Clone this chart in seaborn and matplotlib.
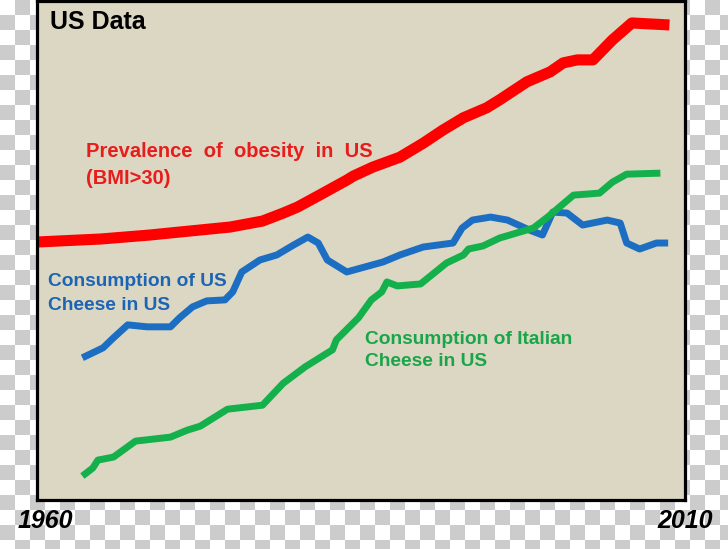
import numpy as np
import pandas as pd
import matplotlib
matplotlib.use("Agg")
import matplotlib.pyplot as plt
import seaborn as sns

# Values (relative index 0-100, no y axis in the original)
obesity_years = [1960.0, 1964.9, 1968.7, 1971.0, 1974.9, 1977.4, 1979.0, 1980.1, 1981.8,
                 1983.9, 1984.4, 1985.9, 1988.0, 1989.8, 1991.3, 1992.9, 1994.7, 1995.7,
                 1997.8, 1999.6, 2000.6, 2001.7, 2002.9, 2004.4, 2005.9, 2008.8]
obesity_vals = [51.7, 52.3, 53.1, 53.7, 54.7, 55.9, 57.5, 58.7, 61.1,
                64.1, 64.9, 66.7, 68.7, 71.5, 74.1, 76.6, 78.6, 80.2,
                83.8, 85.8, 87.6, 88.2, 88.2, 92.2, 95.6, 95.2]

us_cheese_years = [1963.5, 1965.1, 1965.9, 1967.0, 1968.5, 1970.3, 1971.0, 1972.0, 1973.1,
                   1974.5, 1975.1, 1975.8, 1977.2, 1978.5, 1979.8, 1980.9, 1981.7, 1982.4,
                   1983.9, 1986.7, 1988.0, 1989.8, 1992.1, 1992.8, 1993.6, 1995.0, 1996.3,
                   1998.0, 1999.0, 1999.8, 2000.9, 2002.1, 2004.0, 2005.0, 2005.5, 2006.5,
                   2007.8, 2008.7]
us_cheese_vals = [28.5, 30.5, 32.5, 35.1, 34.7, 34.7, 36.5, 38.7, 39.9,
                  40.1, 41.7, 45.7, 48.1, 49.1, 51.1, 52.7, 51.5, 48.1,
                  45.7, 47.7, 49.1, 50.7, 51.5, 54.5, 56.1, 56.7, 56.1,
                  54.1, 53.1, 57.7, 57.5, 55.1, 56.1, 55.5, 51.5, 50.3,
                  51.5, 51.5]

it_cheese_years = [1963.5, 1964.3, 1964.7, 1965.9, 1967.6, 1970.3, 1971.6, 1972.6, 1974.7,
                   1977.4, 1979.0, 1980.7, 1982.8, 1983.1, 1984.8, 1985.8, 1986.6, 1987.0,
                   1987.8, 1989.6, 1991.6, 1992.9, 1993.3, 1994.4, 1995.7, 1997.0, 1998.3,
                   1999.4, 2001.4, 2003.4, 2004.4, 2005.5, 2008.1]
it_cheese_vals = [4.8, 6.4, 8.0, 8.6, 11.8, 12.6, 14.0, 14.8, 18.2,
                  19.0, 23.4, 26.7, 30.1, 32.1, 36.5, 40.1, 41.7, 43.7,
                  42.9, 43.3, 47.5, 49.1, 50.3, 50.9, 52.5, 53.5, 54.5,
                  56.7, 61.1, 61.5, 63.7, 65.3, 65.5]

W, H = 728, 549
fig = plt.figure(figsize=(W / 100, H / 100), dpi=100)

# transparent-look checkerboard behind everything
bg = fig.add_axes([0, 0, 1, 1], zorder=-5)
sq = 15
jj, ii = np.indices((H // sq + 1, W // sq + 1))
checker = (ii + jj) % 2
bg.imshow(checker, cmap=matplotlib.colors.ListedColormap(["#ffffff", "#cccccc"]),
          extent=[0, (W // sq + 1) * sq, (H // sq + 1) * sq, 0], interpolation="nearest")
bg.set_xlim(0, W)
bg.set_ylim(H, 0)
bg.axis("off")

ax = fig.add_axes([37 / W, 1 - 500 / H, 648 / W, 499 / H])
ax.set_facecolor("#dcd7c2")

df_ob = pd.DataFrame({"year": obesity_years, "value": obesity_vals})
df_us = pd.DataFrame({"year": us_cheese_years, "value": us_cheese_vals})
df_it = pd.DataFrame({"year": it_cheese_years, "value": it_cheese_vals})

sns.lineplot(data=df_ob, x="year", y="value", ax=ax, color="#ff0000", linewidth=8,
             solid_capstyle="butt", solid_joinstyle="round")
sns.lineplot(data=df_us, x="year", y="value", ax=ax, color="#1b6ec2", linewidth=5,
             solid_capstyle="butt", solid_joinstyle="round")
sns.lineplot(data=df_it, x="year", y="value", ax=ax, color="#14b04c", linewidth=5,
             solid_capstyle="butt", solid_joinstyle="round")

ax.set_xlim(1960, 2010)
ax.set_ylim(0, 100)
ax.set_xticks([])
ax.set_yticks([])
ax.set_xlabel("")
ax.set_ylabel("")
for s in ax.spines.values():
    s.set_color("black")
    s.set_linewidth(2.3)

font = ["Liberation Sans", "DejaVu Sans"]


def px_text(x, y, txt, **kw):
    fig.text(x / W, 1 - y / H, txt, va="center", ha="left", family=font,
             fontweight="bold", **kw)


px_text(50, 22, "US Data", fontsize=18, color="black")
px_text(86, 152, "Prevalence  of  obesity  in  US", fontsize=14.5, color="#e81c1c")
px_text(86, 178, "(BMI>30)", fontsize=14.5, color="#e81c1c")
px_text(48, 282, "Consumption of US", fontsize=13.8, color="#1c64b4")
px_text(48, 305, "Cheese in US", fontsize=13.8, color="#1c64b4")
px_text(365, 339, "Consumption of Italian", fontsize=13.8, color="#1aa54a")
px_text(365, 361, "Cheese in US", fontsize=13.8, color="#1aa54a")
px_text(18, 521, "1960", fontsize=18, color="black", style="italic")
px_text(657, 521, "2010", fontsize=18, color="black", style="italic")

fig.savefig("out.png", dpi=100)
